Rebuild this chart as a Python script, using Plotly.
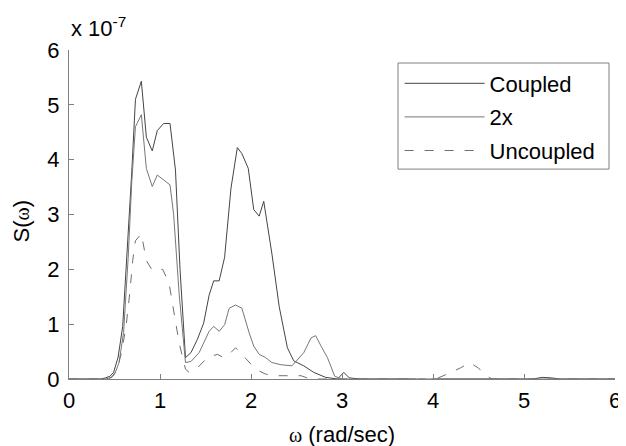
import plotly.graph_objects as go

# values in units of 1e-7
coupled_x = [0, 0.35, 0.40, 0.45, 0.49, 0.54, 0.59, 0.64, 0.69, 0.73, 0.795, 0.85, 0.915, 0.97, 1.04, 1.11,
             1.17, 1.22, 1.28, 1.34, 1.41, 1.48, 1.54, 1.59, 1.65, 1.71, 1.78, 1.85, 1.90, 1.97, 2.03, 2.09,
             2.14, 2.23, 2.31, 2.40, 2.47, 2.58, 2.69, 2.82, 2.95, 3.02, 3.08, 3.2, 3.8, 3.9, 4.0, 5.1, 5.2,
             5.3, 5.4, 6]
coupled_y = [0, 0, 0.02, 0.05, 0.12, 0.4, 0.96, 2.34, 3.78, 5.1, 5.43, 4.41, 4.16, 4.53, 4.66, 4.66,
             3.81, 2.0, 0.39, 0.48, 0.72, 1.02, 1.53, 1.79, 1.79, 2.22, 3.48, 4.22, 4.11, 3.84, 3.09, 2.97,
             3.24, 2.28, 1.32, 0.57, 0.33, 0.24, 0.12, 0.03, 0, 0.12, 0.02, 0, 0, -0.03, 0, 0, 0.03,
             0.02, 0, 0]

twox_x = [0, 0.40, 0.45, 0.50, 0.55, 0.60, 0.65, 0.69, 0.73, 0.795, 0.85, 0.915, 0.97, 1.04, 1.11, 1.15,
          1.21, 1.28, 1.34, 1.43, 1.48, 1.54, 1.59, 1.65, 1.71, 1.76, 1.83, 1.90, 1.98, 2.03, 2.09, 2.16,
          2.23, 2.33, 2.45, 2.58, 2.66, 2.71, 2.77, 2.84, 2.92, 3.0, 6]
twox_y = [0, 0, 0.02, 0.08, 0.3, 0.85, 2.2, 3.6, 4.6, 4.82, 3.84, 3.51, 3.72, 3.63, 3.54, 3.0,
          1.56, 0.3, 0.32, 0.48, 0.66, 0.87, 0.96, 0.87, 0.99, 1.29, 1.35, 1.29, 0.84, 0.60, 0.45, 0.39,
          0.30, 0.26, 0.24, 0.48, 0.75, 0.79, 0.6, 0.39, 0.05, 0, 0]

uncoupled_x = [0, 0.42, 0.47, 0.53, 0.58, 0.63, 0.67, 0.70, 0.73, 0.795, 0.85, 0.915, 0.97, 1.03, 1.10,
               1.15, 1.21, 1.28, 1.32, 1.38, 1.43, 1.52, 1.63, 1.70, 1.76, 1.83, 1.90, 1.98, 2.05, 2.16,
               2.25, 2.55, 2.65, 3.9, 4.0, 4.1, 4.2, 4.3, 4.4, 4.5, 4.58, 4.65, 6]
uncoupled_y = [0, 0, 0.03, 0.18, 0.5, 1.0, 1.6, 2.16, 2.52, 2.65, 2.16, 1.98, 2.0, 2.0, 1.74,
               1.26, 0.66, 0.18, 0.12, 0.15, 0.24, 0.39, 0.45, 0.39, 0.45, 0.57, 0.45, 0.30, 0.18, 0.09,
               0.06, 0.06, 0, 0, -0.02, 0.05, 0.12, 0.2, 0.3, 0.2, 0.06, 0, 0]

series_names = ["Coupled", "2x", "Uncoupled"]
x_ticks = [0, 1, 2, 3, 4, 5, 6]
y_ticks = [0, 1, 2, 3, 4, 5, 6]

fig = go.Figure()
fig.add_trace(go.Scatter(x=coupled_x, y=coupled_y, mode="lines", name=series_names[0], legendgroup="a",
                         line=dict(color="#444444", width=1)))
fig.add_trace(go.Scatter(x=twox_x, y=twox_y, mode="lines", name=series_names[1], legendgroup="b",
                         line=dict(color="#777777", width=1)))
fig.add_trace(go.Scatter(x=uncoupled_x, y=uncoupled_y, mode="lines", name=series_names[2],
                         legendgroup="c", line=dict(color="#6f6f6f", width=1, dash="9px,11px")))

font = "Liberation Sans, Arial, sans-serif"
serif = "Liberation Serif, serif"
# page body has an 8px default margin, so the figure is sized to fit the window
fig.update_layout(
    width=618, height=438,
    margin=dict(l=61, r=11, t=42, b=67),
    paper_bgcolor="white", plot_bgcolor="white",
    font=dict(family=font, size=22, color="black"),
    showlegend=True,
    legend=dict(x=0.6055, y=0.962, xanchor="left", yanchor="top",
                borderwidth=0, bgcolor="rgba(0,0,0,0)",
                font=dict(size=22), itemwidth=80, traceorder="grouped", tracegroupgap=2),
    xaxis=dict(range=[0, 6], tickvals=x_ticks, ticktext=[str(v) for v in x_ticks], automargin=False,
               showgrid=False, zeroline=False, showline=True, linecolor="#808080", linewidth=1,
               ticks="inside", ticklen=5, tickcolor="#808080", ticklabelstandoff=2),
    yaxis=dict(range=[0, 6], tickvals=y_ticks, ticktext=[str(v) for v in y_ticks], automargin=False,
               showgrid=False, zeroline=False, showline=True, linecolor="#808080", linewidth=1,
               ticks="inside", ticklen=5, tickcolor="#808080", ticklabelstandoff=4),
)
# legend frame
fig.add_shape(type="rect", xref="paper", yref="paper", x0=0.6026, x1=0.989, y0=0.638, y1=0.9605,
              line=dict(color="#808080", width=1), fillcolor="white", layer="above")
fig.add_annotation(x=0, y=1, xref="paper", yref="paper", xanchor="left", yanchor="bottom",
                   text="x 10<sup>-7</sup>", showarrow=False, font=dict(size=22), yshift=7, xshift=0)
fig.add_annotation(x=0.5, y=0, xref="paper", yref="paper", xanchor="center", yanchor="middle",
                   text=f'<span style="font-family:{serif};font-size:20px">ω</span> (rad/sec)',
                   showarrow=False, font=dict(size=22), yshift=-55)
fig.add_annotation(x=0, y=0.5, xref="paper", yref="paper", xanchor="center", yanchor="middle",
                   text=f'S(<span style="font-family:{serif};font-size:20px">ω</span>)', textangle=-90,
                   showarrow=False, font=dict(size=22), xshift=-48, yshift=-7)

fig.write_html("out.html")
